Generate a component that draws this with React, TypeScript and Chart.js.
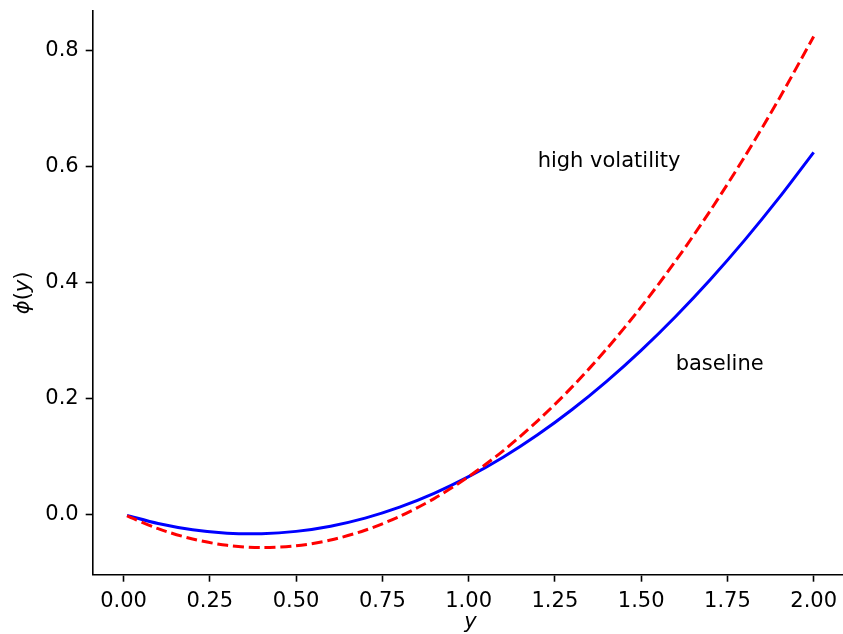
import React, { useEffect, useRef } from "react";
import { Chart, registerables } from "chart.js";

Chart.register(...registerables);

// Data
const xValues = [0.01, 0.1, 0.2, 0.3, 0.4, 0.5, 0.6, 0.7, 0.8, 0.9, 1.0, 1.1, 1.2, 1.3, 1.4, 1.5, 1.6, 1.7, 1.8, 1.9, 2.0];
const baselineValues = [-0.0018, -0.0158, -0.0266, -0.0325, -0.0334, -0.0294, -0.0204, -0.0065, 0.0124, 0.0362, 0.065, 0.0987, 0.1374, 0.181, 0.2296, 0.2831, 0.3416, 0.405, 0.4734, 0.5467, 0.625];
const highVolValues = [-0.0028, -0.0248, -0.0426, -0.0535, -0.0574, -0.0544, -0.0444, -0.0275, -0.0036, 0.0272, 0.065, 0.1097, 0.1614, 0.22, 0.2856, 0.3581, 0.4376, 0.524, 0.6174, 0.7177, 0.825];
const xTicks = [0.0, 0.25, 0.5, 0.75, 1.0, 1.25, 1.5, 1.75, 2.0];
const yTicks = [0.0, 0.2, 0.4, 0.6, 0.8];
const annotations = [
  { text: "high volatility", x: 1.2, y: 0.6 },
  { text: "baseline", x: 1.6, y: 0.25 },
];
const xLabel = "y";

const FONT = "'DejaVu Sans', 'Liberation Sans', sans-serif";
const FS = 21;

const textPlugin = {
  id: "textPlugin",
  afterDraw(chart: any) {
    const ctx = chart.ctx;
    const xs = chart.scales.x;
    const ys = chart.scales.y;
    const area = chart.chartArea;
    ctx.save();
    ctx.fillStyle = "#000";
    ctx.textBaseline = "alphabetic";
    // annotations
    ctx.font = `${FS}px ${FONT}`;
    ctx.textAlign = "left";
    for (const a of annotations) {
      ctx.fillText(a.text, xs.getPixelForValue(a.x), ys.getPixelForValue(a.y));
    }
    // x label
    ctx.font = `italic ${FS}px ${FONT}`;
    ctx.textAlign = "center";
    ctx.fillText(xLabel, (area.left + area.right) / 2, 628);
    // y label: ϕ(y) with mixed styles
    const parts = [
      { t: "\u03D5", f: `italic ${FS}px ${FONT}` },
      { t: "(", f: `${FS}px ${FONT}` },
      { t: "y", f: `italic ${FS}px ${FONT}` },
      { t: ")", f: `${FS}px ${FONT}` },
    ];
    let total = 0;
    const widths: number[] = [];
    for (const p of parts) {
      ctx.font = p.f;
      const w = ctx.measureText(p.t).width;
      widths.push(w);
      total += w;
    }
    ctx.translate(29, (area.top + area.bottom) / 2);
    ctx.rotate(-Math.PI / 2);
    ctx.textAlign = "left";
    let cx = -total / 2;
    parts.forEach((p, i) => {
      ctx.font = p.f;
      ctx.fillText(p.t, cx, 0);
      cx += widths[i];
    });
    ctx.restore();
  },
};

export default function App() {
  const ref = useRef<HTMLCanvasElement | null>(null);
  useEffect(() => {
    if (!ref.current) return;
    const chart = new Chart(ref.current, {
      type: "line",
      data: {
        datasets: [
          {
            label: "high volatility",
            data: xValues.map((x, i) => ({ x, y: highVolValues[i] })),
            borderColor: "#ff0000",
            backgroundColor: "#ff0000",
            borderWidth: 3,
            borderDash: [11, 4.8],
            pointRadius: 0,
            tension: 0.3,
            fill: false,
          },
          {
            label: "baseline",
            data: xValues.map((x, i) => ({ x, y: baselineValues[i] })),
            borderColor: "#0000ff",
            backgroundColor: "#0000ff",
            borderWidth: 3,
            pointRadius: 0,
            tension: 0.3,
            fill: false,
          },
        ],
      },
      options: {
        animation: false,
        responsive: false,
        devicePixelRatio: 1,
        layout: { padding: { top: 11, right: 12, left: 0, bottom: 0 } },
        plugins: { legend: { display: false }, tooltip: { enabled: false } },
        scales: {
          x: {
            type: "linear",
            min: -0.0895,
            max: 2.0995,
            afterBuildTicks: (s: any) => {
              s.ticks = xTicks.map((v) => ({ value: v }));
            },
            afterFit: (s: any) => {
              s.height = 59.3;
              s.paddingLeft = 0;
              s.paddingRight = 0;
              s.paddingTop = 0;
              s.paddingBottom = 0;
            },
            ticks: {
              color: "#000",
              font: { family: FONT, size: FS },
              padding: 7,
              maxRotation: 0,
              autoSkip: false,
              callback: (v: any) => Number(v).toFixed(2),
            },
            grid: {
              display: true,
              drawOnChartArea: false,
              drawTicks: true,
              tickLength: 7,
              tickWidth: 1.6,
              tickColor: "#000",
            },
            border: { display: true, color: "#000", width: 1.6 },
          },
          y: {
            type: "linear",
            min: -0.1042,
            max: 0.869,
            afterBuildTicks: (s: any) => {
              s.ticks = yTicks.map((v) => ({ value: v }));
            },
            afterFit: (s: any) => {
              s.width = 92.7;
              s.paddingLeft = 0;
              s.paddingRight = 0;
              s.paddingTop = 0;
              s.paddingBottom = 0;
            },
            ticks: {
              color: "#000",
              font: { family: FONT, size: FS },
              padding: 7,
              autoSkip: false,
              callback: (v: any) => Number(v).toFixed(1),
            },
            grid: {
              display: true,
              drawOnChartArea: false,
              drawTicks: true,
              tickLength: 7,
              tickWidth: 1.6,
              tickColor: "#000",
            },
            border: { display: true, color: "#000", width: 1.6 },
          },
        },
      },
      plugins: [textPlugin],
    });
    return () => chart.destroy();
  }, []);
  return (
    <div
      style={{
        position: "fixed",
        left: 0,
        top: 0,
        width: 843,
        height: 634,
        overflow: "hidden",
        background: "#fff",
      }}
    >
      <canvas ref={ref} width={860} height={634} style={{ width: 860, height: 634, display: "block" }} />
    </div>
  );
}
